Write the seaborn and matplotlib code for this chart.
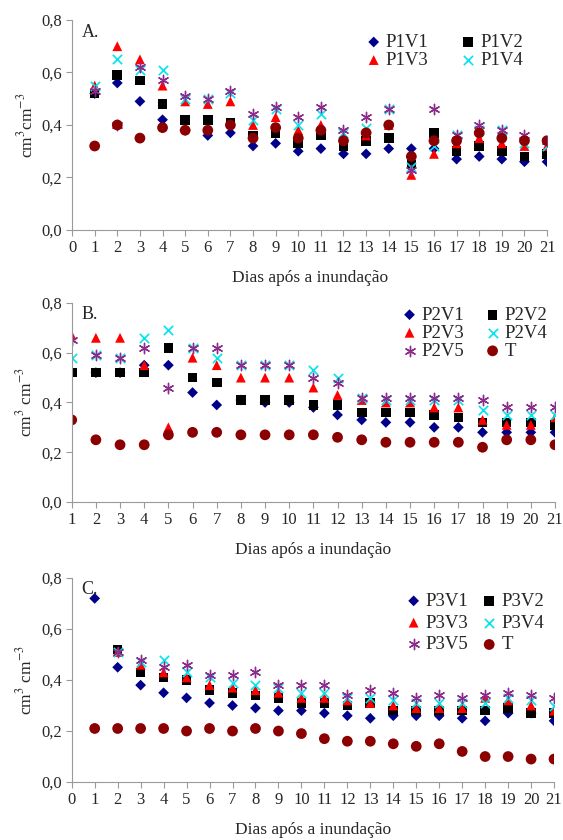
import numpy as np
import pandas as pd
import matplotlib
matplotlib.use("Agg")
import matplotlib.pyplot as plt
import seaborn as sns

sns.set_style("ticks")
plt.rcParams['font.family'] = ['Liberation Serif', 'DejaVu Serif']
plt.rcParams['mathtext.fontset'] = 'stix'

# ---- data (umidade, cm3 cm-3) ----
dias_a = list(range(1, 22))
p1v1 = [0.52, 0.56, 0.49, 0.42, 0.38, 0.36, 0.37, 0.32, 0.33, 0.30, 0.31, 0.29, 0.29, 0.31, 0.31, 0.31, 0.27, 0.28, 0.27, 0.26, 0.26]
p1v2 = [0.52, 0.59, 0.57, 0.48, 0.42, 0.42, 0.41, 0.36, 0.37, 0.33, 0.36, 0.32, 0.34, 0.35, 0.25, 0.37, 0.30, 0.32, 0.30, 0.28, 0.29]
p1v3 = [0.55, 0.70, 0.65, 0.55, 0.49, 0.48, 0.49, 0.40, 0.43, 0.38, 0.40, 0.36, 0.36, 0.40, 0.21, 0.29, 0.33, 0.35, 0.33, 0.32, 0.32]
p1v4 = [0.55, 0.65, 0.61, 0.61, 0.50, 0.50, 0.52, 0.42, 0.46, 0.40, 0.44, 0.37, 0.39, 0.46, 0.24, 0.32, 0.36, 0.38, 0.38, 0.33, 0.32]
p1v5 = [0.53, 0.40, 0.62, 0.57, 0.51, 0.50, 0.53, 0.44, 0.47, 0.43, 0.47, 0.38, 0.43, 0.46, 0.23, 0.46, 0.36, 0.40, 0.38, 0.36, 0.34]
t_a = [0.32, 0.40, 0.35, 0.39, 0.38, 0.38, 0.40, 0.35, 0.39, 0.35, 0.38, 0.34, 0.37, 0.40, 0.28, 0.34, 0.34, 0.37, 0.35, 0.34, 0.34]

dias_b = list(range(1, 22))
p2v1 = [0.52, 0.52, 0.52, 0.55, 0.55, 0.44, 0.39, 0.41, 0.40, 0.40, 0.38, 0.35, 0.33, 0.32, 0.32, 0.30, 0.30, 0.28, 0.28, 0.28, 0.28]
p2v2 = [0.52, 0.52, 0.52, 0.52, 0.62, 0.50, 0.48, 0.41, 0.41, 0.41, 0.39, 0.39, 0.36, 0.36, 0.36, 0.35, 0.34, 0.32, 0.32, 0.32, 0.31]
p2v3 = [0.67, 0.66, 0.66, 0.55, 0.30, 0.58, 0.55, 0.50, 0.50, 0.50, 0.46, 0.43, 0.41, 0.40, 0.40, 0.38, 0.38, 0.33, 0.31, 0.31, 0.34]
p2v4 = [0.58, 0.59, 0.58, 0.66, 0.69, 0.62, 0.58, 0.55, 0.55, 0.55, 0.53, 0.50, 0.42, 0.41, 0.41, 0.41, 0.41, 0.37, 0.35, 0.35, 0.35]
p2v5 = [0.65, 0.59, 0.58, 0.62, 0.46, 0.62, 0.62, 0.55, 0.55, 0.55, 0.50, 0.48, 0.42, 0.42, 0.42, 0.42, 0.42, 0.41, 0.38, 0.38, 0.38]
t_b = [0.33, 0.25, 0.23, 0.23, 0.27, 0.28, 0.28, 0.27, 0.27, 0.27, 0.27, 0.26, 0.25, 0.24, 0.24, 0.24, 0.24, 0.22, 0.25, 0.25, 0.23]

dias_c = list(range(1, 22))
p3v1 = [0.72, 0.45, 0.38, 0.35, 0.33, 0.31, 0.30, 0.29, 0.28, 0.28, 0.27, 0.26, 0.25, 0.26, 0.26, 0.26, 0.25, 0.24, 0.27, 0.27, 0.24]
p3v2 = [np.nan, 0.52, 0.43, 0.41, 0.40, 0.36, 0.35, 0.34, 0.33, 0.31, 0.31, 0.30, 0.31, 0.28, 0.28, 0.28, 0.28, 0.28, 0.29, 0.27, 0.27]
p3v3 = [np.nan, 0.51, 0.46, 0.43, 0.41, 0.38, 0.37, 0.36, 0.35, 0.33, 0.33, 0.32, 0.31, 0.30, 0.29, 0.29, 0.29, 0.33, 0.32, 0.30, 0.28]
p3v4 = [np.nan, 0.51, 0.47, 0.48, 0.43, 0.41, 0.39, 0.38, 0.37, 0.35, 0.35, 0.33, 0.33, 0.32, 0.31, 0.31, 0.31, 0.31, 0.33, 0.32, 0.30]
p3v5 = [np.nan, 0.51, 0.48, 0.45, 0.46, 0.42, 0.42, 0.43, 0.38, 0.38, 0.38, 0.34, 0.36, 0.35, 0.33, 0.34, 0.33, 0.34, 0.35, 0.34, 0.33]
t_c = [0.21, 0.21, 0.21, 0.21, 0.20, 0.21, 0.20, 0.21, 0.20, 0.19, 0.17, 0.16, 0.16, 0.15, 0.14, 0.15, 0.12, 0.10, 0.10, 0.09, 0.09]

# estilo de cada serie (V1..V5, T)
estilos = [
    dict(marker='D', color='#00008B', s=30, edgecolor='none'),
    dict(marker='s', color='black', s=48, edgecolor='none'),
    dict(marker='^', color='red', s=50, edgecolor='none'),
    dict(marker='x', color='#00E5EE', s=45, linewidths=1.2),
    dict(marker=(6, 2, 0), color='#8B2C8B', s=55, linewidths=1.0),
    dict(marker='o', color='#8B0000', s=60, edgecolor='none'),
]

fig = plt.figure(figsize=(5.63, 8.40), dpi=100)
ax_a = fig.add_axes([0.128, 0.7262, 0.8437, 0.25])
ax_b = fig.add_axes([0.1274, 0.4024, 0.8584, 0.2369])
ax_c = fig.add_axes([0.1274, 0.069, 0.8567, 0.2429])


def painel(ax, dias, series, nomes, letra, xmin, legenda_idx):
    for i, (vals, nome) in enumerate(zip(series, nomes)):
        lab = nome if i in legenda_idx else '_nolegend_'
        sns.scatterplot(x=dias, y=vals, ax=ax, label=lab, **estilos[i])
    ax.set_xlim(xmin, 21)
    ax.set_ylim(0, 0.8)
    ax.set_xticks(range(xmin, 22))
    ax.set_yticks([0, 0.2, 0.4, 0.6, 0.8])
    ax.set_yticklabels(['0,0', '0,2', '0,4', '0,6', '0,8'])
    ax.tick_params(labelsize=12, color='#9a9a9a', length=4, width=0.8, pad=3)
    for sp in ['top', 'right']:
        ax.spines[sp].set_visible(False)
    for sp in ['left', 'bottom']:
        ax.spines[sp].set_color('#9a9a9a')
        ax.spines[sp].set_linewidth(0.8)
    ax.set_xlabel('Dias após a inundação', fontsize=12.5, labelpad=10)
    ax.text(0.02, 0.92, letra, transform=ax.transAxes, fontsize=13)


painel(ax_a, dias_a, [p1v1, p1v2, p1v3, p1v4, p1v5, t_a],
       ['P1V1', 'P1V2', 'P1V3', 'P1V4', 'P1V5', 'T'], 'A.', 0, [0, 1, 2, 3])
painel(ax_b, dias_b, [p2v1, p2v2, p2v3, p2v4, p2v5, t_b],
       ['P2V1', 'P2V2', 'P2V3', 'P2V4', 'P2V5', 'T'], 'B.', 1, [0, 1, 2, 3, 4, 5])
painel(ax_c, dias_c, [p3v1, p3v2, p3v3, p3v4, p3v5, t_c],
       ['P3V1', 'P3V2', 'P3V3', 'P3V4', 'P3V5', 'T'], 'C.', 0, [0, 1, 2, 3, 4, 5])

ax_a.set_ylabel('cm$^{3}$cm$^{-3}$', fontsize=12.5, labelpad=4)
ax_b.set_ylabel('cm$^{3}$ cm$^{-3}$', fontsize=12.5, labelpad=4)
ax_c.set_ylabel('cm$^{3}$ cm$^{-3}$', fontsize=12.5, labelpad=4)


def ordem_legenda(ax, bbox, colsp, lsp):
    h, l = ax.get_legend_handles_labels()
    # ncol=2 preenche por coluna: reordena para ler por linha
    idx = list(range(0, len(h), 2)) + list(range(1, len(h), 2))
    ax.legend([h[i] for i in idx], [l[i] for i in idx], ncol=2, frameon=False,
              fontsize=13.5, loc='upper right', bbox_to_anchor=bbox,
              handletextpad=0.15, columnspacing=colsp, labelspacing=lsp,
              handlelength=1.0, borderaxespad=0)


ordem_legenda(ax_a, (0.965, 0.97), 1.6, 0.05)
ordem_legenda(ax_b, (1.0, 1.02), 1.0, 0.05)
ordem_legenda(ax_c, (0.995, 0.965), 0.6, 0.25)

fig.savefig('out.png', dpi=100)
